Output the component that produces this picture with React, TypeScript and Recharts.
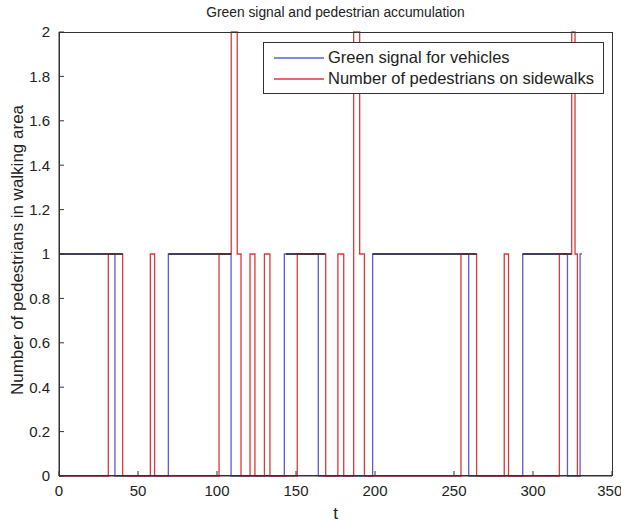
import React from 'react';
import { ComposedChart, Line, XAxis, YAxis, Legend } from 'recharts';

// green signal for vehicles: switching times and levels (step after)
const greenTimes = [0, 35.4, 69.2, 108.9, 142.6, 164.1, 198.5, 259.3, 293.5, 321.8, 329.8, 331];
const greenValues = [1, 0, 1, 0, 1, 0, 1, 0, 1, 0, 1, 1];

// pedestrians on sidewalks: switching times and counts (step after)
const pedTimes = [0, 31.2, 40.3, 57.8, 60.5, 101.3, 109, 112.8, 115.2, 120.9, 124, 130, 133.5, 150.8, 168.8, 176.5, 180.2, 186.5, 190.3, 193.3, 254.4, 264.3, 281.8, 284.5, 316.7, 324.5, 326.6, 328.1, 330];
const pedValues = [0, 1, 0, 1, 0, 1, 2, 1, 0, 1, 0, 1, 0, 1, 0, 1, 0, 2, 1, 0, 1, 0, 1, 0, 1, 2, 1, 0, 0];

// stretches where the dark level-1 line is drawn
const overlapStarts = [0, 69.2, 143.7, 198.5, 293.5];
const overlapEnds = [40.3, 109, 168.4, 264.3, 324.5];

const xTicks = [0, 50, 100, 150, 200, 250, 300, 350];
const yTicks = [0, 0.2, 0.4, 0.6, 0.8, 1, 1.2, 1.4, 1.6, 1.8, 2];

const seriesNames = ['Green signal for vehicles', 'Number of pedestrians on sidewalks'];

const BLUE = '#5c5cdc';
const RED = '#d83a3a';
const AXIS = '#333';
const FONT = '"Liberation Sans", Arial, sans-serif';

const greenData = greenTimes.map((t, i) => ({ t, v: greenValues[i] }));
const pedData = pedTimes.map((t, i) => ({ t, v: pedValues[i] }));
const overlapData = overlapStarts.flatMap((s, i) => [
  { t: s, v: 1 },
  { t: overlapEnds[i], v: 1 },
  { t: overlapEnds[i], v: null },
]);

const legendColors = [BLUE, RED];

const renderLegend = () => (
  <div style={{ border: `1px solid ${AXIS}`, background: '#fff', padding: '4px 0', boxSizing: 'border-box', height: 52 }}>
    {seriesNames.map((name, i) => (
      <div key={name} style={{ display: 'flex', alignItems: 'center', height: 21, fontFamily: FONT, fontSize: 16.5, color: '#222', whiteSpace: 'nowrap' }}>
        <svg width={50} height={4} style={{ marginLeft: 10, marginRight: 4 }}>
          <line x1={0} y1={2} x2={50} y2={2} stroke={legendColors[i]} strokeWidth={1.4} />
        </svg>
        {name}
      </div>
    ))}
  </div>
);

const yLabel = () => (
  <text x={17} y={250} transform="rotate(-90 17 250)" textAnchor="middle" dominantBaseline="central" fontFamily={FONT} fontSize={17} fill="#222">
    Number of pedestrians in walking area
  </text>
);

export default function App() {
  return (
    <div style={{ position: 'absolute', left: 0, top: 0, width: 621, height: 526, background: '#fff' }}>
      <div style={{ position: 'absolute', top: 5, left: 59, width: 553, textAlign: 'center', fontFamily: FONT, fontSize: 13.8, color: '#222' }}>
        Green signal and pedestrian accumulation
      </div>
      <ComposedChart width={621} height={526} margin={{ top: 32, right: 9, bottom: 20, left: 19 }}>
        <Line xAxisId="b" yAxisId="l" data={greenData} dataKey="v" type="stepAfter" name={seriesNames[0]}
          stroke={BLUE} strokeWidth={1.3} dot={false} isAnimationActive={false} />
        <Line xAxisId="b" yAxisId="l" data={pedData} dataKey="v" type="stepAfter" name={seriesNames[1]}
          stroke={RED} strokeWidth={1.3} dot={false} isAnimationActive={false} />
        <Line xAxisId="b" yAxisId="l" data={overlapData} dataKey="v" type="linear" legendType="none"
          stroke="#2a2a2a" strokeWidth={1.3} dot={false} connectNulls={false} isAnimationActive={false} />
        <XAxis xAxisId="b" dataKey="t" type="number" domain={[0, 350]} ticks={xTicks} allowDataOverflow
          height={30} stroke={AXIS} tickSize={-5} tickMargin={14}
          tick={{ fontFamily: FONT, fontSize: 15, fill: '#222' }}
          label={{ value: 't', position: 'bottom', offset: 1, fontFamily: FONT, fontSize: 17, fill: '#222' }} />
        <XAxis xAxisId="t" orientation="top" type="number" domain={[0, 350]} ticks={xTicks} height={0}
          stroke={AXIS} tickSize={-5} tickFormatter={() => ''} />
        <YAxis yAxisId="l" type="number" domain={[0, 2]} ticks={yTicks} width={40} stroke={AXIS}
          tickSize={-5} tickMargin={14} tick={{ fontFamily: FONT, fontSize: 15, fill: '#222' }}
          label={{ content: yLabel }} />
        <YAxis yAxisId="r" orientation="right" type="number" domain={[0, 2]} ticks={yTicks} width={0}
          stroke={AXIS} tickSize={-5} tickFormatter={() => ''} />
        <Legend layout="vertical" align="center" verticalAlign="middle" content={renderLegend}
          wrapperStyle={{ top: 42, left: 263, width: 341, height: 52 }} />
      </ComposedChart>
      {/* axes box drawn over the series, as in the source plot */}
      <div style={{ position: 'absolute', left: 58.5, top: 31.5, width: 554, height: 444, border: `1px solid ${AXIS}`, boxSizing: 'border-box', pointerEvents: 'none' }} />
    </div>
  );
}
